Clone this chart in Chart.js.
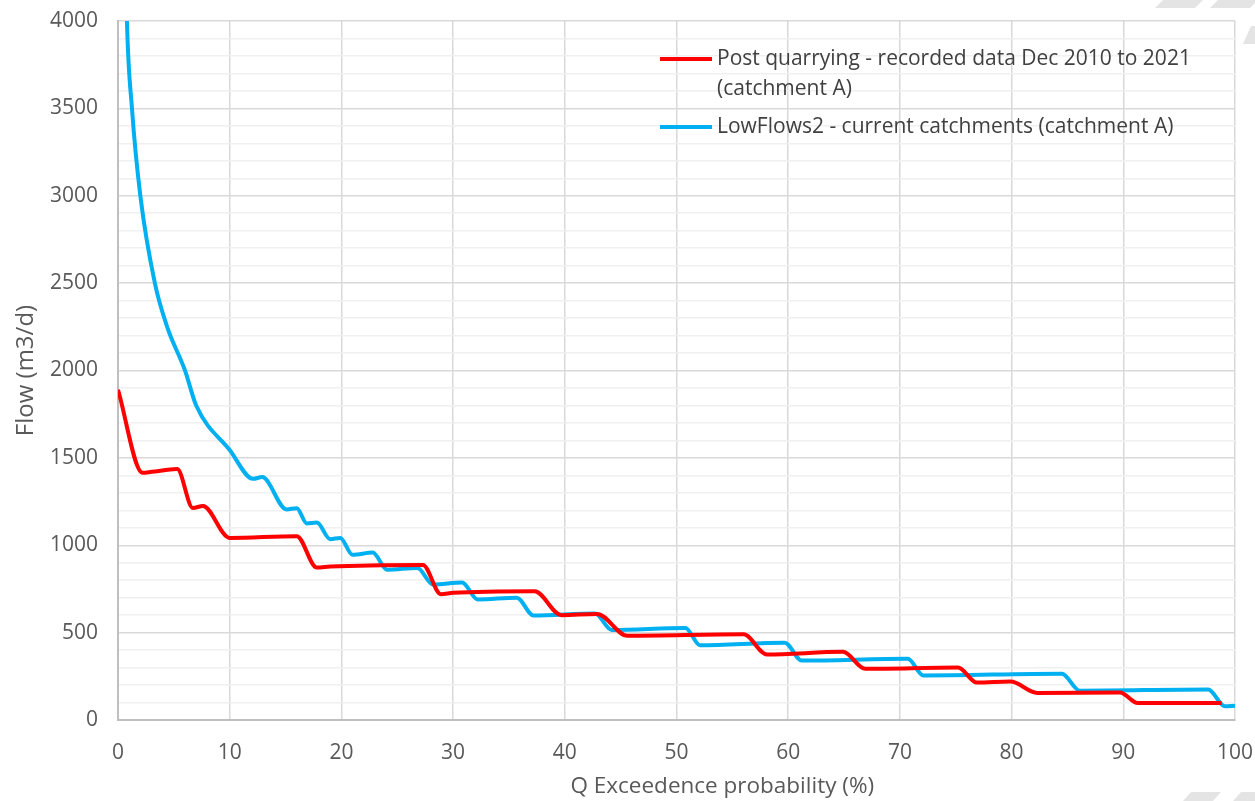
<!DOCTYPE html>
<html>
<head>
<meta charset="utf-8">
<script src="https://cdn.jsdelivr.net/npm/chart.js@4.4.1/dist/chart.umd.min.js"></script>
<style>
  html, body { margin: 0; padding: 0; background: #fff; }
  #wrap { width: 1255px; height: 801px; }
</style>
</head>
<body>
<div id="wrap"><canvas id="flowDuration" width="1255" height="801"></canvas></div>
<script>
// Flow duration curves, catchment A
var postQuarryX = [0, 2.2, 3, 5.3, 6.7, 7.6, 10, 16, 17.8, 19, 27.3, 28.9, 30, 37.3, 39.7, 42.9, 45.6, 56, 58.1, 64.9, 66.9, 75.2, 76.9, 79.9, 82.3, 89.7, 91.3, 98.8];
var postQuarryY = [1890, 1415, 1420, 1436, 1213, 1225, 1042, 1052, 872, 878, 887, 720, 728, 737, 600, 607, 482, 490, 375, 390, 293, 300, 214, 220, 155, 158, 97, 97];

var lowFlowsX = [0.5, 0.8, 1.25, 2.0, 3.3, 4.4, 6.0, 7.0, 10, 12.1, 12.9, 15.1, 16.0, 16.9, 17.8, 19.0, 19.9, 21.0, 22.8, 24.1, 26.8, 28.2, 30.8, 32.2, 35.7, 37.2, 42.7, 44.2, 50.8, 52.1, 59.7, 61.2, 70.7, 72.1, 84.5, 86.1, 97.6, 99.1, 100];
var lowFlowsY = [5000, 4000, 3500, 3000, 2500, 2250, 2000, 1800, 1545, 1380, 1390, 1205, 1212, 1125, 1130, 1035, 1042, 945, 958, 860, 870, 775, 787, 690, 700, 598, 610, 515, 527, 428, 442, 340, 350, 255, 265, 168, 175, 78, 82];

var seriesLabels = [
    'Post quarrying - recorded data Dec 2010 to 2021 (catchment A)',
    'LowFlows2 - current catchments (catchment A)'
];
var seriesColours = ['#ff0000', '#00b0f0'];

var xTitle = 'Q Exceedence probability (%)';
var yTitle = 'Flow (m3/d)';

function toPoints(xs, ys) {
    return xs.map(function (x, i) { return { x: x, y: ys[i] }; });
}

var fontFamily = '"Open Sans", "Noto Sans", sans-serif';
var textGrey = '#595959';

// grey page stripes in the corners of the page
var pageStripes = {
    id: 'pageStripes',
    beforeDraw: function (chart) {
        var ctx = chart.ctx;
        var w = chart.width, h = chart.height;
        var stripes = [
            [w - 100, 0, 40, 8],
            [w - 45, 0, 40, 8],
            [w - 12, 26, 14, 18],
            [w - 72, h - 9, 30, 9],
            [w - 22, h - 9, 30, 9]
        ];
        ctx.save();
        ctx.fillStyle = '#e4e4e4';
        stripes.forEach(function (s) {
            ctx.beginPath();
            ctx.moveTo(s[0] + 8, s[1]);
            ctx.lineTo(s[0] + 8 + s[2], s[1]);
            ctx.lineTo(s[0] + s[2], s[1] + s[3]);
            ctx.lineTo(s[0], s[1] + s[3]);
            ctx.closePath();
            ctx.fill();
        });
        ctx.restore();
    }
};

// legend sits inside the plot, top right, with wrapped text
var insideLegend = {
    id: 'insideLegend',
    afterDraw: function (chart) {
        var ctx = chart.ctx;
        var area = chart.chartArea;
        var lineStart = area.right - 575;
        var textX = area.right - 518;
        var rowY = area.top + 38;
        var lineGap = 30;
        var maxWidth = 500;
        ctx.save();
        ctx.font = '21px ' + fontFamily;
        ctx.textBaseline = 'middle';
        chart.data.datasets.forEach(function (ds) {
            ctx.strokeStyle = ds.borderColor;
            ctx.lineWidth = 4;
            ctx.beginPath();
            ctx.moveTo(lineStart, rowY);
            ctx.lineTo(textX - 5, rowY);
            ctx.stroke();
            // simple word wrap
            var words = ds.label.split(' ');
            var lines = [];
            var cur = '';
            words.forEach(function (w) {
                var test = cur ? cur + ' ' + w : w;
                if (ctx.measureText(test).width > maxWidth && cur) {
                    lines.push(cur);
                    cur = w;
                } else {
                    cur = test;
                }
            });
            lines.push(cur);
            ctx.fillStyle = '#404040';
            lines.forEach(function (ln, i) {
                ctx.fillText(ln, textX, rowY + i * lineGap);
            });
            rowY += lines.length * lineGap + 8;
        });
        ctx.restore();
    }
};

// x axis title, placed the way the spreadsheet placed it
var xAxisTitle = {
    id: 'xAxisTitle',
    afterDraw: function (chart) {
        var ctx = chart.ctx;
        var area = chart.chartArea;
        ctx.save();
        ctx.font = '22.5px ' + fontFamily;
        ctx.fillStyle = textGrey;
        ctx.textAlign = 'center';
        ctx.textBaseline = 'middle';
        ctx.fillText(xTitle, area.left + area.width * 0.541, chart.height - 14);
        ctx.restore();
    }
};

var chrt = document.getElementById('flowDuration').getContext('2d');
var flowChart = new Chart(chrt, {
    type: 'line',
    data: {
        datasets: [{
            label: seriesLabels[0],
            data: toPoints(postQuarryX, postQuarryY),
            borderColor: seriesColours[0],
            borderWidth: 4,
            pointRadius: 0,
            cubicInterpolationMode: 'monotone',
            fill: false
        }, {
            label: seriesLabels[1],
            data: toPoints(lowFlowsX, lowFlowsY),
            borderColor: seriesColours[1],
            borderWidth: 4,
            pointRadius: 0,
            cubicInterpolationMode: 'monotone',
            fill: false
        }]
    },
    options: {
        responsive: false,
        animation: false,
        layout: {
            padding: { top: 21, right: 20, bottom: 0, left: 0 }
        },
        scales: {
            x: {
                type: 'linear',
                min: 0,
                max: 100,
                afterFit: function (scale) {
                    scale.height = 81;
                    scale.paddingLeft = 0;
                    scale.paddingRight = 0;
                },
                ticks: {
                    stepSize: 10,
                    padding: 20,
                    color: textGrey,
                    font: { family: fontFamily, size: 21 }
                },
                grid: { color: '#d9d9d9', lineWidth: 1.5, drawTicks: false },
                border: { color: '#bfbfbf', width: 2 }
            },
            y: {
                min: 0,
                max: 4000,
                afterFit: function (scale) {
                    scale.width = 118;
                    scale.paddingTop = 0;
                    scale.paddingBottom = 0;
                },
                ticks: {
                    stepSize: 100,
                    autoSkip: false,
                    padding: 20,
                    color: textGrey,
                    font: { family: fontFamily, size: 21 },
                    callback: function (val) {
                        return val % 500 === 0 ? val : '';
                    }
                },
                grid: {
                    drawTicks: false,
                    lineWidth: 1.5,
                    color: function (c) {
                        return c.tick && c.tick.value % 500 === 0 ? '#d9d9d9' : '#f0f0f0';
                    }
                },
                border: { color: '#bfbfbf', width: 2 },
                title: {
                    display: true,
                    text: yTitle,
                    color: textGrey,
                    font: { family: fontFamily, size: 24 },
                    padding: { top: 12, bottom: 0 }
                }
            }
        },
        plugins: {
            legend: { display: false },
            tooltip: { enabled: false }
        }
    },
    plugins: [pageStripes, insideLegend, xAxisTitle]
});
</script>
</body>
</html>
